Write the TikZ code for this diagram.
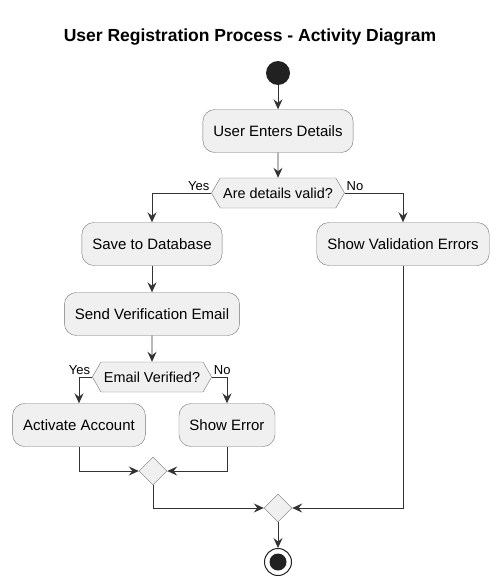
\documentclass[tikz,border=0pt]{standalone}
\usepackage{fontspec}
\setmainfont{Liberation Sans}
\usetikzlibrary{arrows.meta,shapes.geometric,shapes.symbols}

\begin{document}
\begin{tikzpicture}[x=1pt,y=-1pt,
  act/.style={draw=black!55,fill=black!6,rounded corners=12pt,minimum height=43pt,inner xsep=10.5pt,font=\fontsize{15}{17}\selectfont},
  ask/.style={shape=signal,signal to=west and east,signal pointer angle=120,draw=black!55,fill=black!6,minimum height=30pt,inner xsep=3pt,font=\fontsize{14.4}{16}\selectfont},
  merge/.style={diamond,draw=black!55,fill=black!6,minimum width=28pt,minimum height=28pt,inner sep=0pt},
  flow/.style={draw=black!80,line width=0.9pt,-{Stealth[length=10pt,width=9pt,inset=3.5pt]}},
  lbl/.style={font=\fontsize{13}{15}\selectfont,inner sep=1.5pt}]
\useasboundingbox (0,0) rectangle (501,586);
\node [font=\bfseries\fontsize{17.5}{20}\selectfont] (title) at (250,37) {User Registration Process - Activity Diagram};
\node [circle,fill=black!87,minimum size=24pt,inner sep=0pt] (start) at (278,73) {};
\node [act] (enter) at (278,131) {User Enters Details};
\node [ask] (valid) at (278,193) {Are details valid?};
\node [act] (save) at (152,244) {Save to Database};
\node [act] (showval) at (403,244) {Show Validation Errors};
\node [act] (send) at (152,314) {Send Verification Email};
\node [ask] (verified) at (152,377) {Email Verified?};
\node [act] (activate) at (79,425) {Activate Account};
\node [act] (showerr) at (227,425) {Show Error};
\node [merge] (merge1) at (153,471) {};
\node [merge] (merge2) at (278,508) {};
\node [circle,draw=black!87,line width=1pt,fill=white,minimum size=27pt,inner sep=0pt] (stop) at (278,562) {};
\node [circle,fill=black!87,minimum size=17pt,inner sep=0pt] (stopdot) at (stop) {};
\draw [flow] (start) -- (enter);
\draw [flow] (enter) -- (valid);
\draw [flow] (valid.west) -| (save.north) node [pos=0,lbl,above left] {Yes};
\draw [flow] (valid.east) -| (showval.north) node [pos=0,lbl,above right] {No};
\draw [flow] (save) -- (send);
\draw [flow] (send) -- (verified);
\draw [flow] (verified.west) -| (activate.north) node [pos=0,lbl,above left] {Yes};
\draw [flow] (verified.east) -| (showerr.north) node [pos=0,lbl,above right] {No};
\draw [flow] (activate.south) |- (merge1.west);
\draw [flow] (showerr.south) |- (merge1.east);
\draw [flow] (merge1.south) |- (merge2.west);
\draw [flow] (showval.south) |- (merge2.east);
\draw [flow] (merge2) -- (stop);
\end{tikzpicture}
\end{document}
